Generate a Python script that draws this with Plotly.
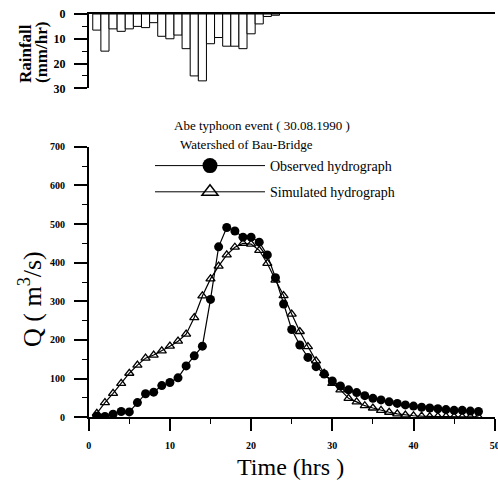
import plotly.graph_objects as go

# ---------------- data ----------------
rain_hours = list(range(1, 24))
rain_mm = [6.5, 15, 6, 7, 6, 5, 5.5, 3.5, 9, 10, 8.5, 14, 25, 27, 12, 9.5, 13, 13, 14, 8, 4, 1, 0.5]

hours = list(range(1, 49))
observed = [3, 2, 8, 15, 14, 38, 61, 65, 82, 90,
            102, 133, 159, 184, 305, 441, 491, 482, 466, 466,
            453, 420, 361, 293, 227, 187, 155, 131, 112, 94,
            81, 71, 64, 56, 49, 45, 40, 36, 32, 29,
            26, 24, 22, 20, 18, 18, 16, 15]
simulated = [10, 38, 62, 88, 114, 135, 153, 161, 172, 184,
             197, 215, 258, 314, 358, 391, 420, 440, 450, 448,
             432, 398, 355, 315, 267, 222, 183, 146, 114, 88,
             71, 49, 40, 30, 24, 18, 13, 9, 6, 4,
             3, 2, 2, 2, 1, 1, 1, 1]

x_ticks = [0, 10, 20, 30, 40, 50]
q_ticks = [0, 100, 200, 300, 400, 500, 600, 700]
rain_ticks = [0, 10, 20, 30]

W, H = 498, 480
SERIF = "Liberation Serif, Times New Roman, serif"


def px(xr):
    return xr / W


def py(yr):
    return 1 - yr / H


fig = go.Figure()

fig.add_trace(go.Bar(
    x=rain_hours, y=rain_mm, width=1.0,
    marker=dict(color="white", line=dict(color="black", width=1)),
    xaxis="x2", yaxis="y2", showlegend=False))

fig.add_trace(go.Scatter(
    x=hours, y=observed, mode="lines+markers", name="Observed hydrograph",
    showlegend=False,
    line=dict(color="black", width=1.2),
    marker=dict(symbol="circle", size=9, color="black"),
    xaxis="x", yaxis="y"))

fig.add_trace(go.Scatter(
    x=hours, y=simulated, mode="lines+markers", name="Simulated hydrograph",
    showlegend=False,
    line=dict(color="black", width=1.2),
    marker=dict(symbol="triangle-up-open", size=8, color="black",
                line=dict(color="black", width=1.3)),
    xaxis="x", yaxis="y"))

# legend-only entries (larger symbols, as in the original key)
fig.add_trace(go.Scatter(
    x=[None], y=[None], mode="lines+markers", name="Observed hydrograph",
    legendgroup="obs", line=dict(color="black", width=1),
    marker=dict(symbol="circle", size=15, color="black"),
    xaxis="x", yaxis="y"))
fig.add_trace(go.Scatter(
    x=[None], y=[None], mode="lines+markers", name="Simulated hydrograph",
    legendgroup="sim", line=dict(color="black", width=1),
    marker=dict(symbol="triangle-up-open", size=14, color="black",
                line=dict(color="black", width=1.5)),
    xaxis="x", yaxis="y"))

xd = [px(88.7), px(494.7)]
tickfont = dict(family=SERIF, size=10, color="black", weight="bold")
rtickfont = dict(family=SERIF, size=12, color="black", weight="bold")

common = dict(showline=True, linecolor="black", linewidth=1.5, showgrid=False,
              zeroline=False, automargin=False)

fig.update_layout(
    template="none",
    width=W, height=H, autosize=False,
    margin=dict(l=0, r=0, t=0, b=0, pad=0, autoexpand=False),
    paper_bgcolor="white", plot_bgcolor="white",
    font=dict(family=SERIF, color="black"),
    xaxis=dict(domain=xd, range=[0, 50], tickvals=x_ticks,
               ticks="outside", ticklen=12, tickwidth=1.5, tickcolor="black",
               minor=dict(dtick=5, ticks="outside", ticklen=5, tickwidth=1, tickcolor="black"),
               tickfont=tickfont, ticklabelstandoff=6, ticklabeloverflow="allow",
               anchor="y", **common),
    yaxis=dict(domain=[py(417.3), py(146.7)], range=[0, 700], tickvals=q_ticks,
               ticks="outside", ticklen=13, tickwidth=1.5, tickcolor="black",
               minor=dict(dtick=50, ticks="outside", ticklen=5, tickwidth=1, tickcolor="black"),
               tickfont=tickfont, ticklabelstandoff=7, anchor="x", **common),
    xaxis2=dict(domain=xd, range=[0, 50], side="top", showticklabels=False,
                ticks="", anchor="y2", **common),
    yaxis2=dict(domain=[py(88.3), py(14)], range=[30, 0], tickvals=rain_ticks,
                ticks="outside", ticklen=13, tickwidth=1.5, tickcolor="black",
                minor=dict(dtick=5, ticks="outside", ticklen=5, tickwidth=1, tickcolor="black"),
                tickfont=rtickfont, ticklabelstandoff=6, anchor="x2", **common),
    showlegend=True,
    legend=dict(x=px(150), y=py(150), xanchor="left", yanchor="top",
                font=dict(family=SERIF, size=14, color="black"),
                itemwidth=110, bgcolor="rgba(0,0,0,0)", borderwidth=0,
                itemsizing="trace", tracegroupgap=5),
    annotations=[
        dict(text="Abe typhoon event ( 30.08.1990 )", x=px(172), y=py(126),
             xref="paper", yref="paper", xanchor="left", yanchor="middle",
             showarrow=False, font=dict(family=SERIF, size=13)),
        dict(text="Watershed of Bau-Bridge", x=px(178), y=py(144),
             xref="paper", yref="paper", xanchor="left", yanchor="middle",
             showarrow=False, font=dict(family=SERIF, size=13)),
        dict(text="Time (hrs )", x=px(290), y=py(467), xref="paper", yref="paper",
             xanchor="center", yanchor="middle", showarrow=False,
             font=dict(family=SERIF, size=24)),
        dict(text="Q ( m<sup>3</sup>/s)", x=px(30), y=py(299), xref="paper", yref="paper",
             xanchor="center", yanchor="middle", showarrow=False, textangle=-90,
             font=dict(family=SERIF, size=26)),
        dict(text="<b>Rainfall</b>", x=px(25), y=py(54),
             xref="paper", yref="paper", xanchor="center", yanchor="middle",
             showarrow=False, textangle=-90,
             font=dict(family=SERIF, size=17)),
        dict(text="<b>(mm/hr)</b>", x=px(42), y=py(53),
             xref="paper", yref="paper", xanchor="center", yanchor="middle",
             showarrow=False, textangle=-90,
             font=dict(family=SERIF, size=17)),
    ],
)

fig.write_html(
    "out.html",
    config={"displayModeBar": False},
    post_script="document.body.style.margin='0';"
                "document.documentElement.style.overflow='hidden';",
)
